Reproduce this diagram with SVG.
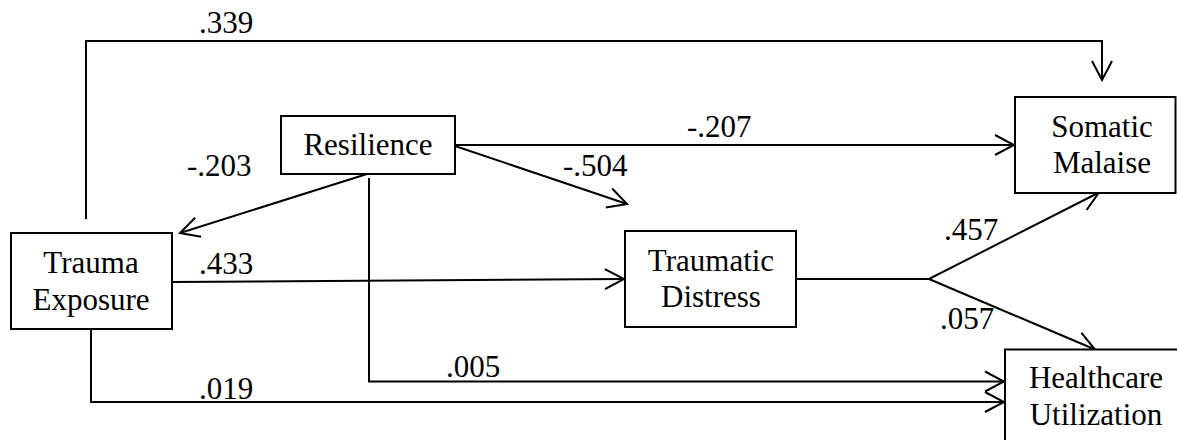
<svg xmlns="http://www.w3.org/2000/svg" width="1177" height="440" viewBox="0 0 1177 440">
  <style>
    .box { fill: #fff; stroke: #000; stroke-width: 2; }
    .t { font-family: "Liberation Serif", "Times New Roman", serif; font-size: 31px; fill: #000; }
    .c { text-anchor: middle; }
    .edge { fill: none; stroke: #000; stroke-width: 2; }
  </style>
  <defs>
    <marker id="arr" markerUnits="userSpaceOnUse" viewBox="-22 -12 24 24" refX="0" refY="0" markerWidth="24" markerHeight="24" orient="auto">
      <path d="M-19,-10 L0,0 L-19,10" fill="none" stroke="#000" stroke-width="2"/>
    </marker>
  </defs>
  <rect width="1177" height="440" fill="#fff"/>
  <g id="connectors">
    <path class="edge" d="M86,219 V41 H1102 V80" marker-end="url(#arr)"/>
    <path class="edge" d="M455,145 H1014" marker-end="url(#arr)"/>
    <path class="edge" d="M455,146 L627,204" marker-end="url(#arr)"/>
    <path class="edge" d="M367,174 L180,233" marker-end="url(#arr)"/>
    <path class="edge" d="M369,178 V381.5 H1004" marker-end="url(#arr)"/>
    <path class="edge" d="M172,282 L624,279" marker-end="url(#arr)"/>
    <path class="edge" d="M796,279 H929 L1099,192.5" marker-end="url(#arr)"/>
    <path class="edge" d="M929,279 L1095,349.5" marker-end="url(#arr)"/>
    <path class="edge" d="M91,329 V402 H1004" marker-end="url(#arr)"/>
  </g>
  <g id="labels">
    <text class="t" x="199" y="33">.339</text>
    <text class="t" x="187" y="176">-.203</text>
    <text class="t" x="687" y="137">-.207</text>
    <text class="t" x="563" y="176">-.504</text>
    <text class="t" x="199" y="274">.433</text>
    <text class="t" x="944" y="240">.457</text>
    <text class="t" x="940" y="329">.057</text>
    <text class="t" x="446" y="377">.005</text>
    <text class="t" x="199" y="399">.019</text>
  </g>
  <g id="resilience">
    <rect class="box" x="281" y="116" width="174" height="58"/>
    <text class="t c" x="368" y="155">Resilience</text>
  </g>
  <g id="trauma-exposure">
    <rect class="box" x="11" y="233" width="161" height="96"/>
    <text class="t c" x="91" y="273">Trauma</text>
    <text class="t c" x="91" y="310">Exposure</text>
  </g>
  <g id="traumatic-distress">
    <rect class="box" x="625" y="231" width="171" height="96"/>
    <text class="t c" x="711" y="271">Traumatic</text>
    <text class="t c" x="711" y="307">Distress</text>
  </g>
  <g id="somatic-malaise">
    <rect class="box" x="1015" y="97" width="160.5" height="96"/>
    <text class="t c" x="1102" y="137">Somatic</text>
    <text class="t c" x="1102" y="173">Malaise</text>
  </g>
  <g id="healthcare-utilization">
    <rect class="box" x="1005" y="349.5" width="180" height="100"/>
    <text class="t c" x="1096" y="388">Healthcare</text>
    <text class="t c" x="1096" y="425">Utilization</text>
  </g>
</svg>
